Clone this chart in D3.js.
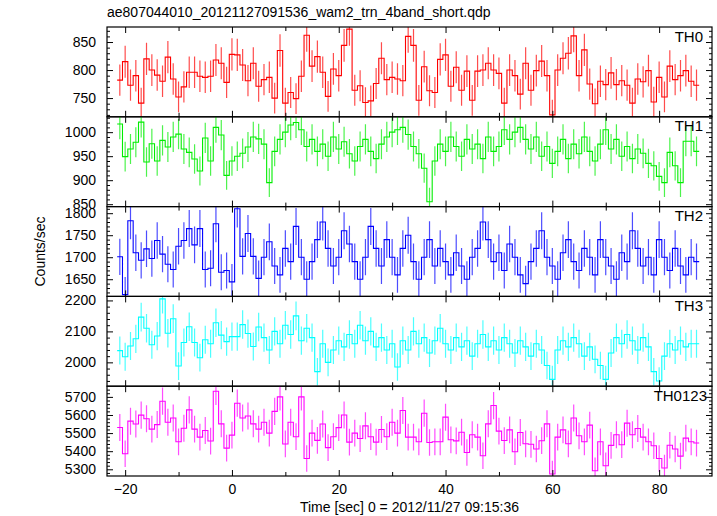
<!DOCTYPE html>
<html><head><meta charset="utf-8">
<script src="https://cdn.jsdelivr.net/npm/d3@7/dist/d3.min.js"></script>
<style>
body{margin:0;background:#fff}
text{font-family:"Liberation Sans",Arial,Helvetica,sans-serif;fill:#000}
</style>
</head><body>
<svg id="c" width="717" height="516"></svg>
<script>
// ---------- data (1-s bins, centres -21 .. 87 s) ----------
const titleText = "ae807044010_20121127091536_wam2_trn_4band_short.qdp";
const xLabel = "Time [sec] 0 = 2012/11/27 09:15:36";
const yLabel = "Counts/sec";
const binStart = -21, binEnd = 87, binWidth = 1;
const binCenters = d3.range(binStart, binEnd + 1, binWidth);

const panelNames = ["TH0", "TH1", "TH2", "TH3", "TH0123"];
const panelColors = ["#ff0000", "#00ee00", "#0000ff", "#00ffff", "#ff00ff"];

const th0 = [
 782,815,773,790,741,820,800,791,780,823,
 784,752,770,796,796,789,787,789,818,812,
 778,828,827,809,781,812,771,783,787,750,
 835,741,760,749,789,862,807,824,796,753,
 802,790,844,873,764,772,742,745,776,821,
 783,787,784,781,860,844,746,806,763,760,
 819,827,771,805,764,798,746,798,800,812,
 800,794,741,800,790,757,812,764,799,816,
 790,720,800,821,830,861,790,836,775,740,
 780,774,795,774,781,773,741,784,779,799,
 743,787,752,807,783,790,799,780,773];
const th1 = [
 1017,949,965,979,1021,938,976,940,983,969,
 990,996,965,958,944,919,988,940,1010,994,
 910,940,950,956,969,990,986,975,895,960,
 985,1000,1015,1020,1005,970,985,960,975,950,
 990,965,980,955,940,970,985,960,945,975,
 990,1000,1005,1010,995,970,955,925,855,940,
 975,960,990,970,950,985,965,975,945,990,
 960,970,1005,985,1000,1010,985,965,990,950,
 970,935,960,985,945,975,955,990,960,940,
 975,1005,965,985,950,970,945,965,956,935,
 930,908,895,958,930,895,981,981,960];
const th2 = [
 1701,1615,1783,1710,1693,1719,1697,1738,1707,1684,
 1672,1725,1738,1765,1728,1765,1672,1675,1776,1666,
 1670,1644,1810,1702,1754,1702,1652,1700,1735,1680,
 1660,1720,1690,1770,1700,1650,1690,1740,1780,1720,
 1680,1700,1760,1730,1690,1650,1700,1770,1720,1680,
 1740,1700,1660,1720,1750,1690,1650,1700,1740,1680,
 1720,1690,1660,1710,1680,1650,1700,1720,1780,1740,
 1690,1710,1670,1730,1700,1660,1640,1690,1720,1760,
 1700,1680,1650,1710,1740,1690,1670,1720,1700,1660,
 1740,1700,1680,1650,1710,1690,1760,1720,1680,1700,
 1660,1740,1700,1670,1720,1680,1660,1700,1690];
const th3 = [
 2038,2018,2053,2076,2146,2110,2057,2085,2205,2094,
 2141,1988,2064,2115,2064,2015,2073,2060,2128,2088,
 2067,2083,2083,2122,2093,2051,2114,2080,2040,2100,
 2060,2120,2090,2150,2070,2110,2080,1970,2060,2000,
 2040,2070,2050,2090,2060,2120,2070,2100,2050,2080,
 2040,2060,1985,2070,2040,2100,2060,2080,2030,2070,
 2110,2060,2040,2080,2050,2070,2020,2060,2090,2050,
 2070,2040,2080,2060,2030,2070,2050,2020,2060,2040,
 1990,1945,2040,2070,2050,2080,2060,2020,2050,2010,
 1990,1945,2030,2080,2060,2090,2070,2040,2080,2050,
 1970,1940,2020,2060,2040,2070,2050,2060,2060];
const th0123 = [
 5531,5386,5566,5550,5599,5579,5522,5547,5676,5560,
 5583,5452,5527,5628,5522,5478,5514,5456,5731,5551,
 5417,5489,5665,5583,5594,5551,5522,5560,5500,5620,
 5700,5440,5560,5480,5700,5360,5500,5460,5550,5420,
 5480,5530,5600,5450,5500,5470,5540,5480,5450,5520,
 5480,5560,5500,5625,5478,5478,5452,5610,5448,5452,
 5452,5588,5463,5457,5505,5393,5491,5478,5375,5551,
 5652,5511,5459,5518,5397,5503,5441,5438,5412,5458,
 5551,5274,5478,5518,5441,5583,5485,5452,5544,5292,
 5452,5320,5432,5491,5436,5555,5491,5525,5478,5452,
 5430,5360,5307,5433,5412,5373,5472,5452,5445];
const seriesValues = [th0, th1, th2, th3, th0123];

const xDomain = [-23.4, 89.9];
const xMajorTicks = [-20, 0, 20, 40, 60, 80];
const xMinorTicks = [-10, 10, 30, 50, 70];
const yDomains = [[716.6, 876.8], [845, 1032], [1611, 1815], [1923, 2213], [5263, 5759]];
const yMajorTicks = [[750, 800, 850], [850, 900, 950, 1000], [1650, 1700, 1750, 1800], [2000, 2100, 2200], [5300, 5400, 5500, 5600, 5700]];
const yMinorSteps = [10, 10, 10, 20, 20];

// ---------- layout ----------
const L = 107, R = 712, T = 27, B = 476;
const nP = seriesValues.length;
const pH = (B - T) / nP;
const svg = d3.select("#c");
const x = d3.scaleLinear().domain(xDomain).range([L, R]);
const fontFam = '"Liberation Sans",Arial,sans-serif';

seriesValues.forEach((vals, i) => {
  const top = T + i * pH, bot = top + pH;
  const color = panelColors[i];
  const y = d3.scaleLinear().domain(yDomains[i]).range([bot, top]);
  // Poisson errors for 1-s bins
  const data = binCenters.map((t, j) => ({t, v: vals[j], e: Math.sqrt(vals[j] * binWidth) / binWidth}));

  svg.append("clipPath").attr("id", "clip" + i)
    .append("rect").attr("x", L).attr("y", top).attr("width", R - L).attr("height", pH);
  const plot = svg.append("g").attr("clip-path", `url(#clip${i})`);

  plot.selectAll("line.err").data(data).join("line").attr("class", "err")
    .attr("x1", d => x(d.t)).attr("x2", d => x(d.t))
    .attr("y1", d => y(d.v - d.e)).attr("y2", d => y(d.v + d.e))
    .attr("stroke", color).attr("stroke-width", 1.2).attr("stroke-opacity", 0.7);

  const pts = data.map(d => [d.t - binWidth / 2, d.v]);
  pts.push([data[data.length - 1].t + binWidth / 2, data[data.length - 1].v]);
  plot.append("path")
    .attr("d", d3.line().x(p => x(p[0])).y(p => y(p[1])).curve(d3.curveStepAfter)(pts))
    .attr("fill", "none").attr("stroke", color).attr("stroke-width", 1.1);

  // y axes
  const [d0, d1] = yDomains[i];
  const step = yMinorSteps[i];
  const minors = d3.range(Math.ceil(d0 / step) * step, d1, step).filter(v => !yMajorTicks[i].includes(v));
  const styleAxis = g => { g.select(".domain").remove(); g.selectAll("line").attr("stroke", "#000"); };
  const styleText = g => g.selectAll("text").style("font-size", "14px").style("font-family", fontFam).attr("fill", "#000");
  svg.append("g").attr("transform", `translate(${L},0)`)
    .call(d3.axisLeft(y).tickValues(yMajorTicks[i]).tickSize(-6).tickPadding(11).tickFormat(d3.format("d")))
    .call(styleAxis).call(styleText);
  svg.append("g").attr("transform", `translate(${L},0)`)
    .call(d3.axisLeft(y).tickValues(minors).tickSize(-3).tickFormat(""))
    .call(styleAxis);
  svg.append("g").attr("transform", `translate(${R},0)`)
    .call(d3.axisRight(y).tickValues(yMajorTicks[i]).tickSize(-6).tickFormat(""))
    .call(styleAxis);
  svg.append("g").attr("transform", `translate(${R},0)`)
    .call(d3.axisRight(y).tickValues(minors).tickSize(-3).tickFormat(""))
    .call(styleAxis);

  // x ticks (top and bottom of every panel)
  const last = i === nP - 1;
  svg.append("g").attr("transform", `translate(0,${bot})`)
    .call(d3.axisBottom(x).tickValues(xMajorTicks).tickSize(-6).tickPadding(8)
      .tickFormat(last ? d3.format("d") : ""))
    .call(styleAxis).call(styleText);
  svg.append("g").attr("transform", `translate(0,${bot})`)
    .call(d3.axisBottom(x).tickValues(xMinorTicks).tickSize(-4).tickFormat(""))
    .call(styleAxis);
  svg.append("g").attr("transform", `translate(0,${top})`)
    .call(d3.axisTop(x).tickValues(xMajorTicks).tickSize(-6).tickFormat(""))
    .call(styleAxis);
  svg.append("g").attr("transform", `translate(0,${top})`)
    .call(d3.axisTop(x).tickValues(xMinorTicks).tickSize(-4).tickFormat(""))
    .call(styleAxis);

  svg.append("rect").attr("x", L).attr("y", top).attr("width", R - L).attr("height", pH)
    .attr("fill", "none").attr("stroke", "#000").attr("stroke-width", 1.2);

  svg.append("text").attr("x", last ? R - 5 : R - 9).attr("y", top + 14.5).attr("text-anchor", "end")
    .style("font-size", "15px").text(panelNames[i]);
});

svg.append("text").attr("x", L).attr("y", 17).style("font-size", "14px").text(titleText);
svg.append("text").attr("x", (L + R) / 2).attr("y", 511.5).attr("text-anchor", "middle")
  .style("font-size", "14px").text(xLabel);
svg.append("text").attr("transform", `translate(45,${(T + B) / 2}) rotate(-90)`)
  .attr("text-anchor", "middle").style("font-size", "14px").text(yLabel);
</script>
</body></html>
